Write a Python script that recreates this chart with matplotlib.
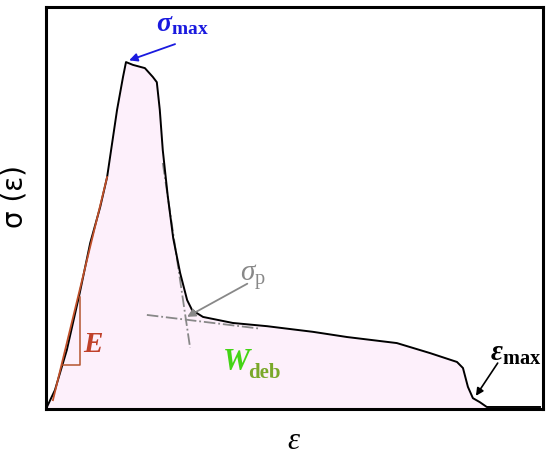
import numpy as np
import matplotlib
matplotlib.use("Agg")
import matplotlib.pyplot as plt

plt.rcParams['mathtext.fontset'] = 'custom'
plt.rcParams['mathtext.rm'] = 'Liberation Serif'
plt.rcParams['mathtext.it'] = 'Liberation Serif:italic'
plt.rcParams['mathtext.bf'] = 'Liberation Serif:bold'
plt.rcParams['mathtext.bfit'] = 'Liberation Serif:bold:italic'

# schematic stress-strain curve (normalised units)
strain = [0.0, 0.018, 0.042, 0.068, 0.089, 0.109, 0.123, 0.143, 0.155, 0.161,
          0.175, 0.199, 0.215, 0.223, 0.229, 0.235, 0.245, 0.256, 0.270,
          0.284, 0.294, 0.316, 0.376, 0.445, 0.471, 0.537, 0.606, 0.706, 0.773,
          0.827, 0.839, 0.849, 0.859, 0.873, 0.887, 0.907, 0.994]
stress = [0.0, 0.047, 0.147, 0.289, 0.413, 0.502, 0.577, 0.744, 0.826, 0.863,
          0.856, 0.848, 0.826, 0.813, 0.744, 0.644, 0.530, 0.425, 0.338,
          0.271, 0.246, 0.229, 0.214, 0.206, 0.202, 0.192, 0.179, 0.164, 0.139,
          0.117, 0.102, 0.055, 0.027, 0.017, 0.005, 0.005, 0.005]

# elastic modulus line and triangle
e_line_x = [0.014, 0.123]
e_line_y = [0.022, 0.577]
tri_x = [0.034, 0.068, 0.068]
tri_y = [0.109, 0.109, 0.279]

# tangent construction for sigma_p
steep_x = [0.235, 0.290]
steep_y = [0.612, 0.152]
flat_x = [0.203, 0.430]
flat_y = [0.234, 0.200]

fig = plt.figure(figsize=(5.5, 4.61), dpi=100)
ax = fig.add_axes([0.0836, 0.1128, 0.9036, 0.872])

ax.fill_between(strain, stress, 0, color='#fdf0fb', zorder=1)
ax.plot(strain, stress, color='black', lw=1.4, zorder=3)

ax.plot(e_line_x, e_line_y, color='#c0502a', lw=1.3, zorder=4)
ax.plot(tri_x, tri_y, color='#b5542e', lw=1.1, zorder=4)
ax.text(0.074, 0.142, r'$\mathbfit{E}$', color='#c0412a', fontsize=21)

ax.plot(steep_x, steep_y, color='#888888', lw=1.3, ls='-.', zorder=2)
ax.plot(flat_x, flat_y, color='#888888', lw=1.3, ls='-.', zorder=2)
ax.text(0.39, 0.32, r'$\sigma_{\mathrm{p}}$', color='#888888', fontsize=21)
ax.annotate('', xy=(0.279, 0.226), xytext=(0.41, 0.315),
            arrowprops=dict(arrowstyle='-|>', color='#888888', lw=1.3, mutation_scale=12))

ax.text(0.222, 0.94, r'$\mathbfit{\sigma}_{\mathbf{max}}$', color='#1a1adf', fontsize=20)
ax.annotate('', xy=(0.162, 0.865), xytext=(0.265, 0.910),
            arrowprops=dict(arrowstyle='-|>', color='#1a1adf', lw=1.3, mutation_scale=12))

ax.text(0.355, 0.098, r'$\mathbfit{W}$', color='#44d415', fontsize=22, family='DejaVu Sans')
ax.text(0.407, 0.076, 'deb', color='#7aa82a', fontsize=15, fontweight='bold', family='Liberation Serif')

ax.text(0.893, 0.12, r'$\mathbfit{\varepsilon}_{\mathbf{max}}$', color='black', fontsize=21)
ax.annotate('', xy=(0.862, 0.027), xytext=(0.912, 0.12),
            arrowprops=dict(arrowstyle='-|>', color='black', lw=1.2, mutation_scale=11))

ax.set_xlim(0, 1)
ax.set_ylim(0, 1)
ax.set_xticks([])
ax.set_yticks([])
for s in ax.spines.values():
    s.set_linewidth(2.2)

fig.text(14 / 550, 1 - 197 / 461, 'σ (ε)', fontsize=20, family='DejaVu Sans',
         rotation=90, ha='center', va='center')
ax.set_xlabel(r'$\varepsilon$', fontsize=22, labelpad=12)

fig.savefig('out.png', dpi=100)
